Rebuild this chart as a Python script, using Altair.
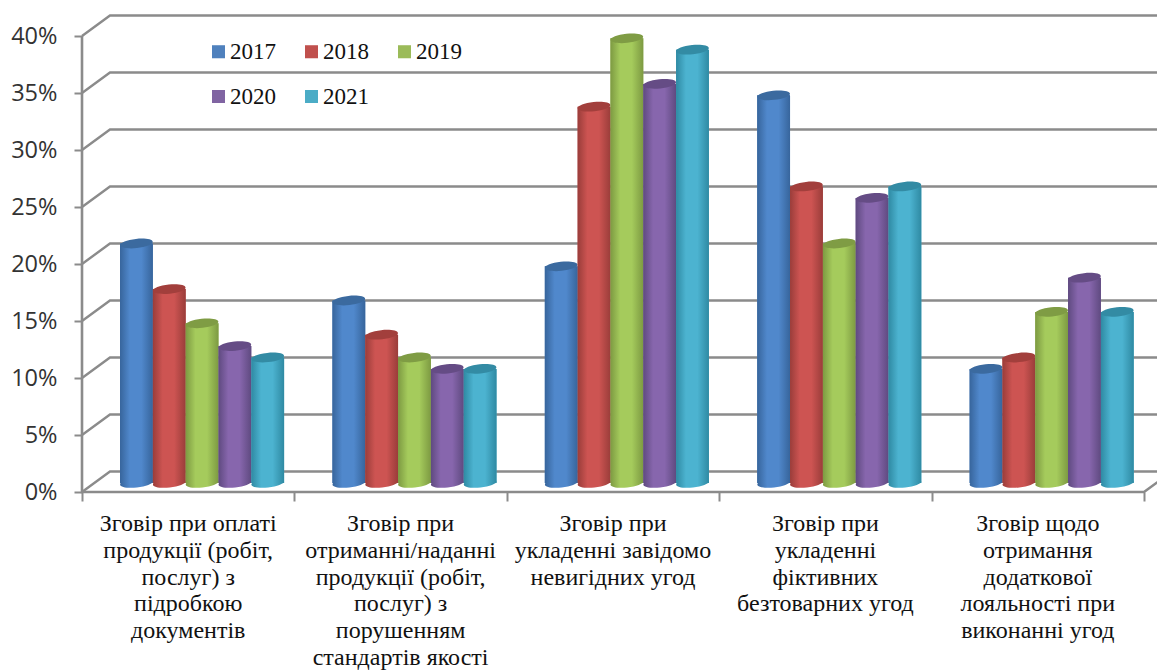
import altair as alt
import pandas as pd

categories = [
    "Зговір при оплаті\nпродукції (робіт,\nпослуг) з\nпідробкою\nдокументів",
    "Зговір при\nотриманні/наданні\nпродукції (робіт,\nпослуг) з\nпорушенням\nстандартів якості",
    "Зговір при\nукладенні завідомо\nневигідних угод",
    "Зговір при\nукладенні\nфіктивних\nбезтоварних угод",
    "Зговір щодо\nотримання\nдодаткової\nлояльності при\nвиконанні угод",
]
years = ["2017", "2018", "2019", "2020", "2021"]
values_2017 = [21, 16, 19, 34, 10]
values_2018 = [17, 13, 33, 26, 11]
values_2019 = [14, 11, 39, 21, 15]
values_2020 = [12, 10, 35, 25, 18]
values_2021 = [11, 10, 38, 26, 15]
y_ticks = [0, 5, 10, 15, 20, 25, 30, 35, 40]
series = [values_2017, values_2018, values_2019, values_2020, values_2021]

base_colors = ["#4f81bd", "#c0504d", "#9bbb59", "#8064a2", "#4bacc6"]
edge_colors = ["#37659c", "#9a3d3a", "#7d9a42", "#5f4a80", "#2f8aa3"]
light_colors = ["#5088cc", "#cd5452", "#a5cb5c", "#8766ad", "#4cb3d0"]
top_colors = ["#3b6a9f", "#a23f3c", "#7f9c44", "#654c85", "#338ba4"]

GRID = "#8b8b8b"
X_DOMAIN = [-0.3484, 5.0612]
Y_DOMAIN = [-15.61, 42.456]
DEPTH_X, DEPTH_Y = 0.1318, 1.8
BAR_W, BAR_START, BAR_BASE = 0.1545, 0.179, 0.8

x_scale = alt.Scale(domain=X_DOMAIN, nice=False, zero=False)
y_scale = alt.Scale(domain=Y_DOMAIN, nice=False, zero=False)
x_axis = alt.Axis(values=[0, 1, 2, 3, 4, 5], labels=False, title=None, domain=False, grid=False,
                  offset=-178, tickSize=9, tickColor=GRID, tickWidth=2)
y_axis = alt.Axis(values=y_ticks, labelExpr="datum.value + '%'", title=None, domain=False, grid=False,
                  offset=-74, tickSize=8, tickColor=GRID, tickWidth=2, labelPadding=17,
                  labelFont="Open Sans", labelFontSize=23.5, labelColor="#333333")

rows = []
for s, (yr, vals) in enumerate(zip(years, series)):
    for c, v in enumerate(vals):
        x0 = c + BAR_START + s * BAR_W
        rows.append({"year": yr, "cat": c, "value": v, "x0": x0, "x1": x0 + BAR_W,
                     "xc": x0 + BAR_W / 2, "base": BAR_BASE, "top": v + BAR_BASE})
bars = pd.DataFrame(rows)

wall = []
for t in y_ticks:
    wall += [{"t": t, "o": 0, "x": 0, "y": t},
             {"t": t, "o": 1, "x": DEPTH_X, "y": t + DEPTH_Y},
             {"t": t, "o": 2, "x": 5 + DEPTH_X, "y": t + DEPTH_Y}]
wall_df = pd.DataFrame(wall)
frame_df = pd.DataFrame([{"o": 0, "x": 0, "y": 40}, {"o": 1, "x": 0, "y": 0},
                         {"o": 2, "x": 5, "y": 0}, {"o": 3, "x": 5 + DEPTH_X, "y": DEPTH_Y}])
labels_df = pd.DataFrame({"x": [i + 0.5 for i in range(5)], "y": [-1.75] * 5, "label": categories})


def X(f):
    return alt.X(f, scale=x_scale, axis=x_axis)


def Y(f):
    return alt.Y(f, scale=y_scale, axis=y_axis)


layers = []
layers.append(alt.Chart(wall_df).mark_line(color=GRID, strokeWidth=2.4, clip=True).encode(
    x=X("x:Q"), y=Y("y:Q"), detail="t:N", order="o:Q"))
layers.append(alt.Chart(frame_df).mark_line(color=GRID, strokeWidth=2.6, clip=True).encode(
    x=X("x:Q"), y=Y("y:Q"), order="o:Q"))

layers.append(alt.Chart(bars).mark_rect().encode(
    x=X("x0:Q"), x2="x1:Q", y=Y("base:Q"), y2="top:Q",
    color=alt.Color("year:N", scale=alt.Scale(domain=years, range=base_colors), legend=alt.Legend(
        orient="none", legendX=199, legendY=32, columns=3, direction="horizontal", title=None,
        symbolType="square", symbolSize=170, symbolStrokeWidth=0, labelFont="Liberation Serif",
        labelFontSize=23, labelColor="#111111", columnPadding=24, rowPadding=21, labelOffset=0,
        gridAlign="all"))))

ELLIPSE = "M-1,0A1,0.28,0,1,1,1,0A1,0.28,0,1,1,-1,0Z"
for s, yr in enumerate(years):
    df = bars[bars.year == yr]
    grad = alt.Gradient(gradient="linear", x1=0, y1=0, x2=1, y2=0, stops=[
        alt.GradientStop(offset=0, color=edge_colors[s]),
        alt.GradientStop(offset=0.3, color=light_colors[s]),
        alt.GradientStop(offset=0.65, color=light_colors[s]),
        alt.GradientStop(offset=1, color=edge_colors[s])])
    c = alt.Chart(df)
    size = (BAR_W * 212.4) ** 2
    layers.append(c.mark_point(shape=ELLIPSE, size=size, filled=True, fill=grad, opacity=1,
                               strokeWidth=0, angle=354).encode(x=X("xc:Q"), y=Y("base:Q")))
    layers.append(c.mark_rect(fill=grad).encode(x=X("x0:Q"), x2="x1:Q", y=Y("base:Q"), y2="top:Q"))
    layers.append(c.mark_point(shape=ELLIPSE, size=size, filled=True, fill=top_colors[s], opacity=1,
                               strokeWidth=0, angle=354).encode(x=X("xc:Q"), y=Y("top:Q")))

layers.append(alt.Chart(labels_df).mark_text(
    font="Liberation Serif", fontSize=24, color="#111111", baseline="top", align="center",
    lineBreak="\n", lineHeight=26.8).encode(x=X("x:Q"), y=Y("y:Q"), text="label:N"))

chart = alt.layer(*layers).properties(
    width=1149, height=662, padding=0, autosize=alt.AutoSizeParams(type="none"),
    background="white"
).configure_view(stroke=None)

chart.save("out.html", embed_options={"renderer": "svg", "actions": False})
